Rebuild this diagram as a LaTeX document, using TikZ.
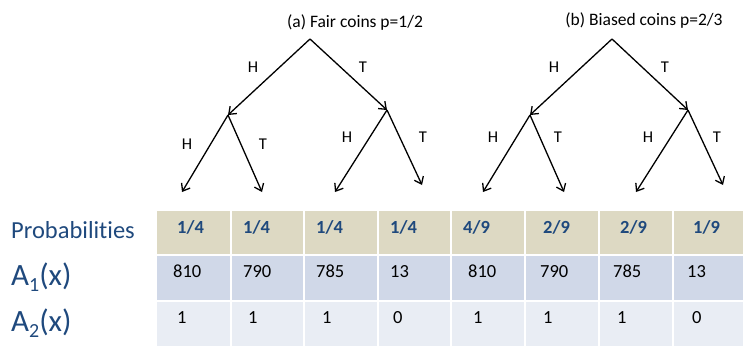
\documentclass[tikz,border=0pt]{standalone}
\usepackage{fontspec}
\setmainfont[Ligatures=NoCommon,RawFeature={-liga}]{Carlito}
\usetikzlibrary{arrows.meta}
\definecolor{headtan}{HTML}{DDD9C3}
\definecolor{bandA}{HTML}{D0D8E8}
\definecolor{bandB}{HTML}{E9EDF4}
\definecolor{navy}{HTML}{1F497D}

\begin{document}
\begin{tikzpicture}[x=1pt,y=-1pt,
  branch/.style={line width=1.3pt,-{Straight Barb[length=6.5pt,width=10pt,line width=1.3pt]}},
  coin/.style={font=\fontsize{16.5}{17}\selectfont,inner sep=0pt},
  treetitle/.style={font=\fontsize{17.5}{18}\selectfont,inner sep=0pt,anchor=base},
  rowlabel/.style={font=\fontsize{31}{31}\selectfont,text=navy,inner sep=0pt,anchor=base west},
  problabel/.style={font=\fontsize{24.5}{25}\selectfont,text=navy,inner sep=0pt,anchor=base west},
  headtxt/.style={font=\fontsize{18.5}{19}\selectfont\bfseries,text=navy,inner sep=0pt,anchor=base west},
  celltxt/.style={font=\fontsize{18.5}{19}\selectfont,inner sep=0pt,anchor=base west}]
\useasboundingbox (0,0) rectangle (743,346);

% ---------- table background ----------
\foreach \l/\r in {157/229.5,231.5/303,305/376.5,378.5/450,452/524,526/598,600/672,674/743}{
  \fill[headtan] (\l,211) rectangle (\r,254);
  \fill[bandA]   (\l,256) rectangle (\r,299.5);
  \fill[bandB]   (\l,301.5) rectangle (\r,346);
}

% ---------- row labels ----------
\node[problabel] (lprob) at (11,238) {Probabilities};
\node[rowlabel] (lA1) at (11,285) {A\raisebox{-6pt}{\fontsize{20}{20}\selectfont 1}(x)};
\node[rowlabel] (lA2) at (11,331) {A\raisebox{-6pt}{\fontsize{20}{20}\selectfont 2}(x)};

% ---------- probabilities ----------
\node[headtxt] (p1) at (177,233) {1/4};
\node[headtxt] (p2) at (243,233) {1/4};
\node[headtxt] (p3) at (316,233) {1/4};
\node[headtxt] (p4) at (390,233) {1/4};
\node[headtxt] (p5) at (463,233) {4/9};
\node[headtxt] (p6) at (543,233) {2/9};
\node[headtxt] (p7) at (620,233) {2/9};
\node[headtxt] (p8) at (693,233) {1/9};

% ---------- A1(x) ----------
\node[celltxt] (a1) at (173,277) {810};
\node[celltxt] (a2) at (243,277) {790};
\node[celltxt] (a3) at (316,277) {785};
\node[celltxt] (a4) at (390,277) {13};
\node[celltxt] (a5) at (468,277) {810};
\node[celltxt] (a6) at (540,277) {790};
\node[celltxt] (a7) at (613,277) {785};
\node[celltxt] (a8) at (687,277) {13};

% ---------- A2(x) ----------
\node[celltxt] (b1) at (177,323) {1};
\node[celltxt] (b2) at (248,323) {1};
\node[celltxt] (b3) at (322,323) {1};
\node[celltxt] (b4) at (393,323) {0};
\node[celltxt] (b5) at (473,323) {1};
\node[celltxt] (b6) at (543,323) {1};
\node[celltxt] (b7) at (617,323) {1};
\node[celltxt] (b8) at (692,323) {0};

% ---------- tree (a): fair coins ----------
\node[treetitle] (ta) at (355,27) {(a) Fair coins p=1/2};
\coordinate (aR)  at (310,39);
\coordinate (aL)  at (228,115);
\coordinate (aT)  at (387,110);
\coordinate (aLL) at (182,192);
\coordinate (aLT) at (262,192);
\coordinate (aTL) at (335,192);
\coordinate (aTT) at (422,185);
\draw[branch] (aR) -- (aL);
\draw[branch] (aR) -- (aT);
\draw[branch] (aL) -- (aLL);
\draw[branch] (aL) -- (aLT);
\draw[branch] (aT) -- (aTL);
\draw[branch] (aT) -- (aTT);
\node[coin] (ha1) at (253,67) {H};
\node[coin] (ta1) at (363,67) {T};
\node[coin] (ha2) at (187,144) {H};
\node[coin] (ta2) at (263,144) {T};
\node[coin] (ha3) at (347,137) {H};
\node[coin] (ta3) at (423,137) {T};

% ---------- tree (b): biased coins ----------
\node[treetitle] (tb) at (644,25) {(b) Biased coins p=2/3};
\coordinate (bR)  at (612,39);
\coordinate (bL)  at (530,115);
\coordinate (bT)  at (688,110);
\coordinate (bLL) at (483,192);
\coordinate (bLT) at (564,192);
\coordinate (bTL) at (636,192);
\coordinate (bTT) at (723,185);
\draw[branch] (bR) -- (bL);
\draw[branch] (bR) -- (bT);
\draw[branch] (bL) -- (bLL);
\draw[branch] (bL) -- (bLT);
\draw[branch] (bT) -- (bTL);
\draw[branch] (bT) -- (bTT);
\node[coin] (hb1) at (554,67) {H};
\node[coin] (tb1) at (665,67) {T};
\node[coin] (hb2) at (493,137) {H};
\node[coin] (tb2) at (558,137) {T};
\node[coin] (hb3) at (648,137) {H};
\node[coin] (tb3) at (717,137) {T};
\end{tikzpicture}
\end{document}
